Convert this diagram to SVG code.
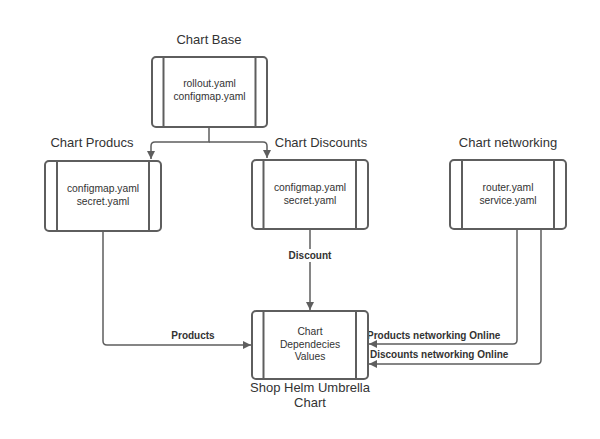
<svg xmlns="http://www.w3.org/2000/svg" width="600" height="439" viewBox="0 0 600 439">
<style>
.box{fill:#fff;stroke:#5e5e5e;stroke-width:2}
.div{stroke:#5e5e5e;stroke-width:2}
.title{font-family:"Liberation Sans",Arial,sans-serif;font-size:13px;fill:#333;text-anchor:middle}
.body{font-family:"Liberation Sans",Arial,sans-serif;font-size:10.3px;fill:#333;text-anchor:middle}
.lbl{font-family:"Liberation Sans",Arial,sans-serif;font-size:10px;font-weight:bold;fill:#333}
.conn{fill:none;stroke:#5e5e5e;stroke-width:1.5}
</style>
<defs>
<marker id="arr" viewBox="0 0 10 10" refX="10" refY="5" markerWidth="8" markerHeight="8" markerUnits="userSpaceOnUse" orient="auto">
<path d="M0,0 L10,5 L0,10 Z" fill="#5e5e5e"/>
</marker>
</defs>
<rect width="600" height="439" fill="#fff"/>
<g id="connectors">
<path class="conn" d="M209,127 V142 H155 Q151,142 151,146 V159" marker-end="url(#arr)"/>
<path class="conn" d="M209,142 H263 Q267,142 267,146 V158" marker-end="url(#arr)"/>
<path class="conn" d="M103,231 V341 Q103,345 107,345 H251" marker-end="url(#arr)"/>
<path class="conn" d="M310,229 V310" marker-end="url(#arr)"/>
<path class="conn" d="M517,229 V340 Q517,344 513,344 H369" marker-end="url(#arr)"/>
<path class="conn" d="M541,229 V360 Q541,364 537,364 H369" marker-end="url(#arr)"/>
<rect x="286" y="249" width="48" height="13" fill="#fff"/>
<text class="lbl" x="310" y="259" text-anchor="middle">Discount</text>
<text class="lbl" x="193" y="339" text-anchor="middle">Products</text>
<text class="lbl" x="367" y="339">Products networking Online</text>
<text class="lbl" x="370" y="358">Discounts networking Online</text>
</g>
<g id="chart-base">
<text class="title" x="209" y="44">Chart Base</text>
<rect class="box" x="152" y="57" width="115" height="70" rx="4"/>
<line class="div" x1="163.5" y1="57" x2="163.5" y2="127"/>
<line class="div" x1="255.5" y1="57" x2="255.5" y2="127"/>
<text class="body" x="209.5" y="87">rollout.yaml</text>
<text class="body" x="209.5" y="100">configmap.yaml</text>
</g>
<g id="chart-producs">
<text class="title" x="92" y="147">Chart Producs</text>
<rect class="box" x="45" y="161" width="116" height="70" rx="4"/>
<line class="div" x1="57" y1="161" x2="57" y2="231"/>
<line class="div" x1="149" y1="161" x2="149" y2="231"/>
<text class="body" x="103" y="192">configmap.yaml</text>
<text class="body" x="103" y="205">secret.yaml</text>
</g>
<g id="chart-discounts">
<text class="title" x="321" y="147">Chart Discounts</text>
<rect class="box" x="252" y="160" width="116" height="69" rx="4"/>
<line class="div" x1="263.5" y1="160" x2="263.5" y2="229"/>
<line class="div" x1="356" y1="160" x2="356" y2="229"/>
<text class="body" x="310" y="191">configmap.yaml</text>
<text class="body" x="310" y="204">secret.yaml</text>
</g>
<g id="chart-networking">
<text class="title" x="508" y="147">Chart networking</text>
<rect class="box" x="450" y="160" width="116" height="69" rx="4"/>
<line class="div" x1="462" y1="160" x2="462" y2="229"/>
<line class="div" x1="554" y1="160" x2="554" y2="229"/>
<text class="body" x="508" y="191">router.yaml</text>
<text class="body" x="508" y="204">service.yaml</text>
</g>
<g id="umbrella">
<rect class="box" x="252" y="311" width="116" height="68" rx="4"/>
<line class="div" x1="263.5" y1="311" x2="263.5" y2="379"/>
<line class="div" x1="356" y1="311" x2="356" y2="379"/>
<text class="body" x="310" y="335">Chart</text>
<text class="body" x="310" y="348">Dependecies</text>
<text class="body" x="310" y="360">Values</text>
<text class="title" x="310" y="392">Shop Helm Umbrella</text>
<text class="title" x="310" y="407">Chart</text>
</g>
</svg>
